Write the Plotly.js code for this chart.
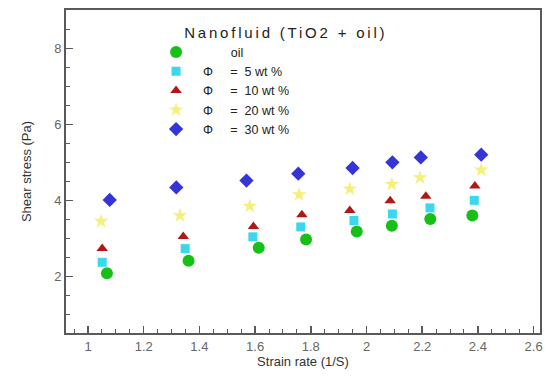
<!DOCTYPE html>
<html>
<head>
<meta charset="utf-8">
<script src="https://cdn.plot.ly/plotly-3.0.1.min.js"></script>
<style>
html,body{margin:0;padding:0;background:#fff;}
#chart{width:546px;height:377px;}
#chart .annotation-text{letter-spacing:2.8px;}
</style>
</head>
<body>
<div id="chart"></div>
<script>
// Series names
const seriesNames = ["oil", "\u03A6     =  5 wt %", "\u03A6     =  10 wt %", "\u03A6     =  20 wt %", "\u03A6     =  30 wt %"];

// Strain rate (1/S) per series
const xOil  = [1.068, 1.361, 1.613, 1.783, 1.965, 2.091, 2.229, 2.380];
const x5    = [1.051, 1.349, 1.592, 1.764, 1.955, 2.093, 2.228, 2.387];
const x10   = [1.051, 1.342, 1.594, 1.768, 1.940, 2.085, 2.213, 2.389];
const x20   = [1.047, 1.330, 1.581, 1.758, 1.940, 2.091, 2.192, 2.412];
const x30   = [1.078, 1.317, 1.569, 1.755, 1.950, 2.093, 2.195, 2.412];

// Shear stress (Pa) per series
const yOil  = [2.08, 2.41, 2.75, 2.97, 3.18, 3.33, 3.51, 3.60];
const y5    = [2.37, 2.73, 3.04, 3.30, 3.47, 3.64, 3.80, 4.00];
const y10   = [2.73, 3.05, 3.31, 3.62, 3.73, 3.99, 4.11, 4.38];
const y20   = [3.45, 3.60, 3.85, 4.15, 4.30, 4.42, 4.60, 4.80];
const y30   = [4.01, 4.34, 4.52, 4.70, 4.85, 5.00, 5.13, 5.20];

const legendTitle = "Nanofluid (TiO2 + oil)";
const xTitle = "Strain rate (1/S)";
const yTitle = "Shear stress (Pa)";

const xs = [xOil, x5, x10, x20, x30];
const ys = [yOil, y5, y10, y20, y30];
const symbols = ["circle", "square", "triangle-up", "star", "diamond"];
const colors = ["#16c016", "#3ad8ec", "#b01818", "#f4f07a", "#3434d8"];
const sizes = [12, 9, 10, 11, 11];

const traces = xs.map((x, i) => ({
  type: "scatter", mode: "markers", x: x, y: ys[i],
  name: (i === 0 ? "\u00A0\u00A0\u00A0\u00A0\u00A0\u00A0\u00A0\u00A0\u00A0\u00A0" : "\u00A0\u00A0") + seriesNames[i].replace(/ /g, "\u00A0"),
  marker: { symbol: symbols[i], color: colors[i], size: sizes[i], line: { width: 0 } }
}));

const axisCommon = {
  showgrid: false, zeroline: false, showline: true, mirror: true,
  linecolor: "#5a5a5a", linewidth: 2, ticks: "inside", tickcolor: "#5a5a5a",
  tickwidth: 1.5, ticklen: 7,
  tickfont: { family: "Liberation Sans, Arial, sans-serif", size: 13, color: "#666" }
};

const layout = {
  width: 546, height: 377,
  margin: { l: 66, r: 6, t: 10, b: 44 },
  paper_bgcolor: "#fff", plot_bgcolor: "#fff",
  showlegend: true,
  legend: {
    x: 0.19, y: 0.915, xanchor: "left", yanchor: "top",
    bgcolor: "rgba(0,0,0,0)", borderwidth: 0,
    font: { family: "Liberation Sans, Arial, sans-serif", size: 12.5, color: "#222" },
    itemwidth: 30, tracegroupgap: 0
  },
  xaxis: Object.assign({}, axisCommon, {
    range: [0.921, 2.623], tick0: 1, dtick: 0.2,
    minor: { dtick: 0.05, ticks: "inside", ticklen: 4, tickcolor: "#5a5a5a", tickwidth: 1 },
    title: { text: xTitle, font: { family: "Liberation Sans, Arial, sans-serif", size: 13, color: "#333" }, standoff: 1 }
  }),
  yaxis: Object.assign({}, axisCommon, {
    range: [0.51, 9.007], tick0: 0, dtick: 2,
    minor: { dtick: 0.5, ticks: "inside", ticklen: 4, tickcolor: "#5a5a5a", tickwidth: 1 },
    title: { text: yTitle, font: { family: "Liberation Sans, Arial, sans-serif", size: 13, color: "#333" }, standoff: 20 }
  }),
  annotations: [{
    text: legendTitle, xref: "paper", yref: "paper", x: 0.31, y: 0.93,
    xanchor: "left", yanchor: "middle", showarrow: false,
    font: { family: "Liberation Sans, Arial, sans-serif", size: 15, color: "#222" }
  }]
};

Plotly.newPlot("chart", traces, layout, { displayModeBar: false, staticPlot: true });
</script>
</body>
</html>
